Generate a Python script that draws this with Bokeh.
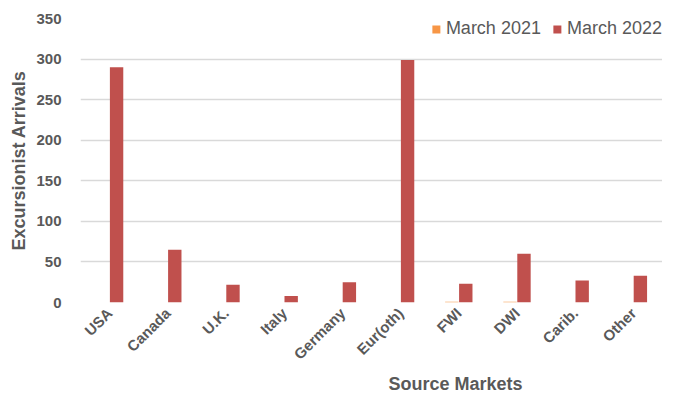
import math
from bokeh.plotting import figure
from bokeh.models import FactorRange, Range1d, ColumnDataSource, Title, FixedTicker
from bokeh.transform import dodge
from bokeh.embed import file_html
from bokeh.resources import INLINE

markets = ["USA", "Canada", "U.K.", "Italy", "Germany", "Eur(oth)", "FWI", "DWI", "Carib.", "Other"]
march_2021 = [0, 0, 0, 0, 0, 0, 1, 1, 0, 0]
march_2022 = [290, 65, 22, 8, 25, 299, 23, 60, 27, 33]
y_ticks = [0, 50, 100, 150, 200, 250, 300, 350]

FONT = "Liberation Sans"
TXT = "#595959"

src = ColumnDataSource(dict(m=markets, a=march_2021, b=march_2022))

p = figure(width=662, height=393, x_range=FactorRange(*markets, range_padding=0),
           y_range=Range1d(0, 350), output_backend="svg", toolbar_location=None,
           min_border_left=80, min_border_top=18, min_border_right=0, min_border_bottom=0)

p.vbar(x=dodge("m", -0.12, range=p.x_range), top="a", width=0.23, source=src,
       fill_color="#F79646", line_color=None, legend_label="March 2021")
p.vbar(x=dodge("m", 0.12, range=p.x_range), top="b", width=0.23, source=src,
       fill_color="#C0504D", line_color=None, legend_label="March 2022")

p.outline_line_color = None
p.xgrid.grid_line_color = None
p.ygrid.grid_line_color = "#D9D9D9"
p.ygrid.grid_line_width = 1.3
p.yaxis.ticker = FixedTicker(ticks=y_ticks)

for ax in (p.xaxis, p.yaxis):
    ax.axis_line_color = None
    ax.major_tick_line_color = None
    ax.minor_tick_line_color = None
    ax.major_label_text_font = FONT
    ax.major_label_text_font_style = "bold"
    ax.major_label_text_font_size = "15px"
    ax.major_label_text_color = TXT
    ax.axis_label_text_font = FONT
    ax.axis_label_text_font_style = "bold"
    ax.axis_label_text_font_size = "18px"
    ax.axis_label_text_color = TXT

p.yaxis.axis_label = "Excursionist Arrivals"
p.yaxis.major_label_standoff = 13
p.yaxis.axis_label_standoff = 4
p.xaxis.major_label_orientation = math.pi / 4
p.xaxis.major_label_standoff = 2

t = Title(text="Source Markets", align="left", offset=308, standoff=0, text_font=FONT,
          text_font_size="18px", text_font_style="bold", text_color=TXT,
          text_line_height=1.0)
p.add_layout(t, "below")

lg = p.legend[0]
lg.location = "top_right"
lg.orientation = "horizontal"
lg.margin = 0
lg.padding = 9
lg.spacing = 11
lg.border_line_color = None
lg.background_fill_alpha = 0
lg.glyph_width = 10
lg.glyph_height = 10
lg.label_standoff = 5
lg.label_text_font = FONT
lg.label_text_font_size = "18px"
lg.label_text_color = TXT

open("out.html", "w").write(file_html(p, INLINE))
